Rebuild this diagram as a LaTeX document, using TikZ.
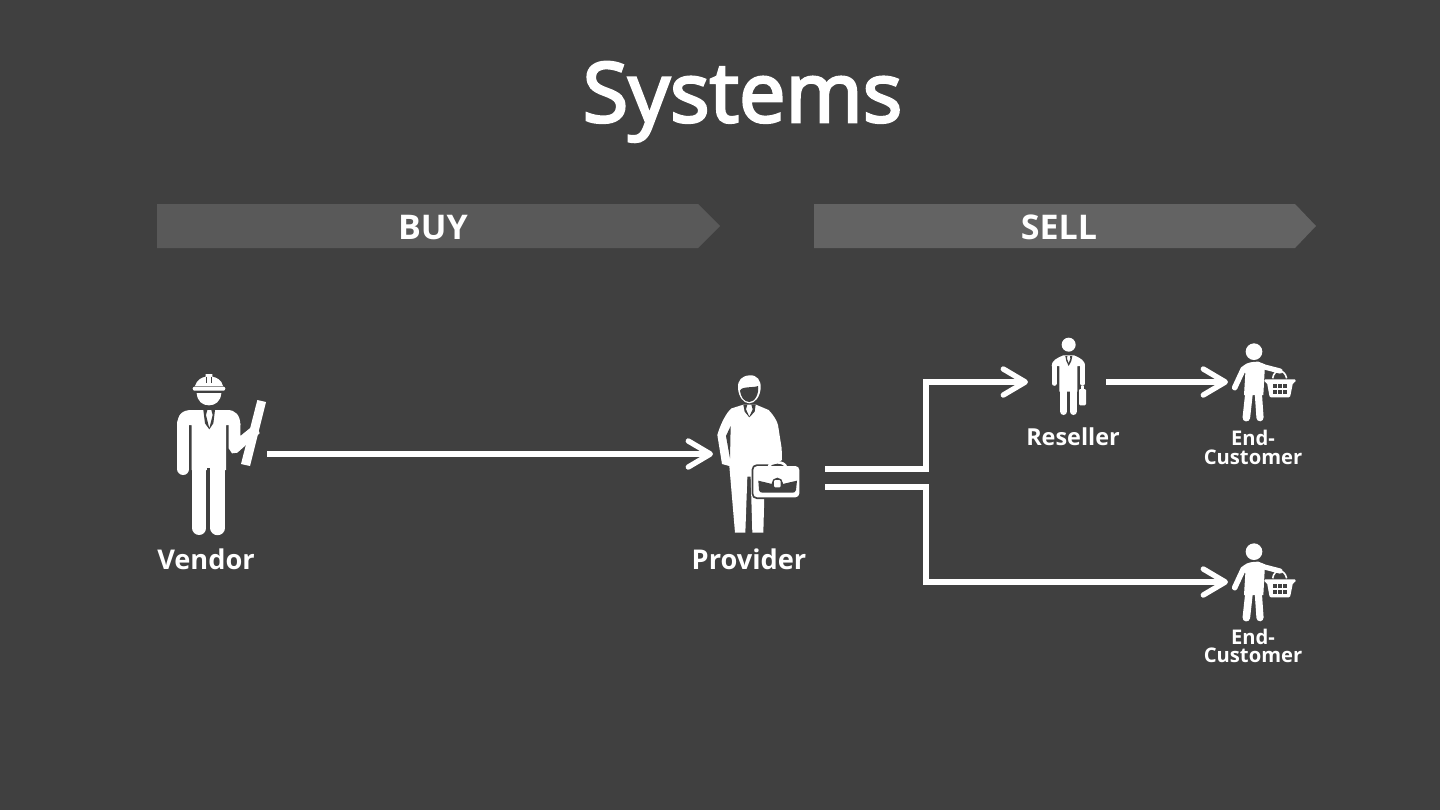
\documentclass[tikz,border=0pt]{standalone}
\usepackage{fontspec}
\setmainfont{Open Sans}
\newfontfamily\titlefont[FakeBold=3.2]{Open Sans}
\usetikzlibrary{arrows.meta}
\definecolor{bg}{HTML}{404040}
\definecolor{chevA}{HTML}{595959}
\definecolor{chevB}{HTML}{636363}
\tikzset{
  x=0.5pt,y=-0.5pt,
  lbl/.style={text=white,font=\bfseries\fontsize{13.6}{14}\selectfont,inner sep=0,anchor=base},
  small/.style={text=white,font=\bfseries\fontsize{10.1}{9.2}\selectfont,inner sep=0,anchor=base},
  banner/.style={text=white,font=\bfseries\fontsize{17}{17}\selectfont,inner sep=0,anchor=base},
  flow/.style={draw=white,line width=2.7pt,line join=miter,-{Straight Barb[length=11pt,width=13pt,line width=2.7pt,round]}},
  ink/.style={fill=white,draw=none},
  hole/.style={fill=bg,draw=none},
  limb/.style={draw=white,line cap=round},
}
\begin{document}
\begin{tikzpicture}
\fill[bg] (0,0) rectangle (1440,810);
\useasboundingbox (0,0) rectangle (1440,810);
\node[text=white,font=\titlefont\fontsize{41.5}{42}\selectfont,inner sep=0,anchor=base] (title) at (742.5,122) {Systems};
\fill[chevA] (157,204) -- (698,204) -- (720,226) -- (698,248) -- (157,248) -- cycle;
\fill[chevB] (814,204) -- (1295,204) -- (1316,226) -- (1295,248) -- (814,248) -- cycle;
\node[banner] (buy) at (433,239) {BUY};
\node[banner] (sell) at (1059,239) {SELL};
% Vendor
\begin{scope}[shift={(150,360)},scale=1/3]
 \fill[ink] (322,120) -- (348,126) -- (300,318) -- (273,312) -- cycle;
 % helmet
 \fill[ink] (135,78) .. controls (140,60) and (155,52) .. (167,50) -- (167,42) -- (187,42) -- (187,50) .. controls (200,52) and (215,60) .. (219,78) -- cycle;
 \draw[bg,line width=.5pt] (170,50) -- (170,70) (184,50) -- (184,70);
 \fill[ink,rounded corners=1pt] (128,80) rectangle (226,92);
 \fill[ink] (140,99) -- (214,99) .. controls (212,125) and (195,136) .. (177,136) .. controls (158,136) and (142,125) .. (140,99) -- cycle;
 % yoke and torso
 \fill[ink] (82,195) .. controls (82,162) and (98,150) .. (125,150) -- (232,150) .. controls (256,150) and (271,165) .. (271,195) -- (236,195) -- (228,195) -- (228,330) -- (125,330) -- (125,195) -- (118,195) -- (118,195) -- cycle;
 \draw[limb,line width=6pt] (100,190) -- (100,327);
 % right arm with hand
 \fill[ink] (236,190) -- (271,190) -- (271,228) -- (303,202) -- (322,200) -- (329,220) -- (305,240) -- (262,278) -- (246,280) -- (236,265) -- cycle;
 % legs
 \draw[limb,line width=7pt] (148,325) -- (148,504);
 \draw[limb,line width=7.2pt] (203,325) -- (203,504);
 \draw[bg,line width=1.6pt] (175,325) -- (175,530);
 % tie
 \fill[hole] (160,150) -- (172,150) -- (168,165) -- (178,205) -- (188,165) -- (184,150) -- (195,150) -- (190,190) -- (178,208) -- (165,190) -- cycle;
\end{scope}
% Provider
\begin{scope}[shift={(690,360)},scale=1/3]
 \fill[ink] (178,46) .. controls (200,44) and (214,60) .. (212,85) .. controls (210,110) and (195,130) .. (178,130) .. controls (160,130) and (146,110) .. (144,85) .. controls (142,60) and (156,48) .. (178,46) -- cycle;
 \fill[hole] (150,92) .. controls (155,78) and (190,84) .. (204,78) .. controls (208,100) and (195,126) .. (178,126) .. controls (162,126) and (152,110) .. (150,92) -- cycle;
 \fill[ink] (125,145) -- (160,134) -- (198,134) -- (236,150) .. controls (250,165) and (260,180) .. (264,195) -- (275,265) -- (276,300) -- (225,330) -- (220,518) -- (187,518) -- (182,350) -- (172,350) -- (166,518) -- (135,518) -- (118,318) -- (96,312) -- (82,225) .. controls (90,195) and (110,155) .. (125,145) -- cycle;
 \fill[hole] (122,198) -- (108,228) -- (120,295) -- cycle;
 \fill[hole] (160,134) -- (172,134) -- (168,148) -- (178,170) -- (188,148) -- (184,134) -- (197,134) -- (194,155) -- (178,172) -- (164,155) -- cycle;
 \fill[bg,rounded corners=2.5pt] (185,313) rectangle (333,417);
 \fill[ink,rounded corners=2pt] (190,318) rectangle (328,412);
 \draw[white,line width=1.3pt] (236,322) .. controls (238,302) and (286,302) .. (288,322);
 \fill[hole] (205,362) -- (246,372) -- (278,372) -- (321,362) -- (318,390) .. controls (316,397) and (312,398) .. (308,398) -- (218,398) .. controls (212,398) and (208,396) .. (207,390) -- cycle;
 \fill[hole] (262,370) circle[radius=17];
 \fill[ink,rounded corners=.6pt] (252,360) rectangle (272,382);
\end{scope}
% Reseller
\begin{scope}[shift={(1020,330)},scale=1/3]
 \fill[ink] (146,44) circle[radius=21];
 \fill[ink] (95,108) .. controls (95,92) and (110,84) .. (130,76) -- (162,76) .. controls (182,84) and (195,92) .. (195,108) -- (172,108) -- (172,185) -- (118,185) -- (118,108) -- cycle;
 \draw[limb,line width=2.5pt] (102.5,105) -- (102.5,160);
 \draw[limb,line width=2.5pt] (187.5,105) -- (187.5,160);
 \draw[limb,line width=3.7pt] (131,180) -- (131,244);
 \draw[limb,line width=3.7pt] (160,180) -- (160,244);
 \fill[hole] (136,78) -- (142,78) -- (141,86) -- (146,100) -- (151,86) -- (150,78) -- (157,78) -- (154,93) -- (146,108) -- (139,93) -- cycle;
 \fill[ink,rounded corners=.6pt] (177,177) rectangle (198,226);
 \fill[ink] (183,168) rectangle (192,178);
\end{scope}
% End customers
\foreach \ox/\oy in {1200/335,1200/535}{
\begin{scope}[shift={(\ox,\oy)},scale=1/3]
 \fill[ink] (162,50) circle[radius=25];
 \fill[ink] (124,100) .. controls (130,88) and (145,80) .. (175,80) -- (195,88) -- (190,180) -- (132,180) -- (136,115) -- cycle;
 \draw[limb,line width=2.8pt] (130,102) -- (104,158);
 \draw[limb,line width=2.6pt] (178,92) -- (240,108);
 \draw[limb,line width=3.8pt] (147,175) -- (139,248);
 \draw[limb,line width=3.6pt] (175,175) -- (180,248);
 \draw[white,line width=.8pt] (218,130) .. controls (222,100) and (254,100) .. (260,130);
 \fill[ink,rounded corners=.6pt] (192,133) -- (288,133) -- (285,143) -- (279,143) -- (270,187) -- (209,187) -- (201,143) -- (195,143) -- cycle;
 \foreach \gx in {220,235,250}{\foreach \gy in {146,164}{\fill[hole] (\gx,\gy) rectangle ++(11,13);}}
\end{scope}}
% Labels
\node[lbl] (vendor) at (206,569) {Vendor};
\node[lbl] (provider) at (749,569) {Provider};
\node[small,font=\bfseries\fontsize{11.7}{12}\selectfont] (reseller) at (1073,445) {Reseller};
\node[small] (ec1a) at (1253,445) {End-};
\node[small] (ec1b) at (1253,464) {Customer};
\node[small] (ec2a) at (1253,644) {End-};
\node[small] (ec2b) at (1253,662) {Customer};
% Connector ends
\coordinate (vendorOut) at (267,454);
\coordinate (providerIn) at (713,454);
\coordinate (provA) at (825,469);
\coordinate (provB) at (825,487);
\coordinate (resIn) at (1028,382);
\coordinate (resOut) at (1106,382);
\coordinate (ec1In) at (1228,382);
\coordinate (ec2In) at (1228,582);
\draw[flow] (vendorOut) -- (providerIn);
\draw[flow] (provA) -- (926,469) -- (926,382) -- (resIn);
\draw[flow] (provB) -- (926,487) -- (926,582) -- (ec2In);
\draw[flow] (resOut) -- (ec1In);
\end{tikzpicture}
\end{document}
